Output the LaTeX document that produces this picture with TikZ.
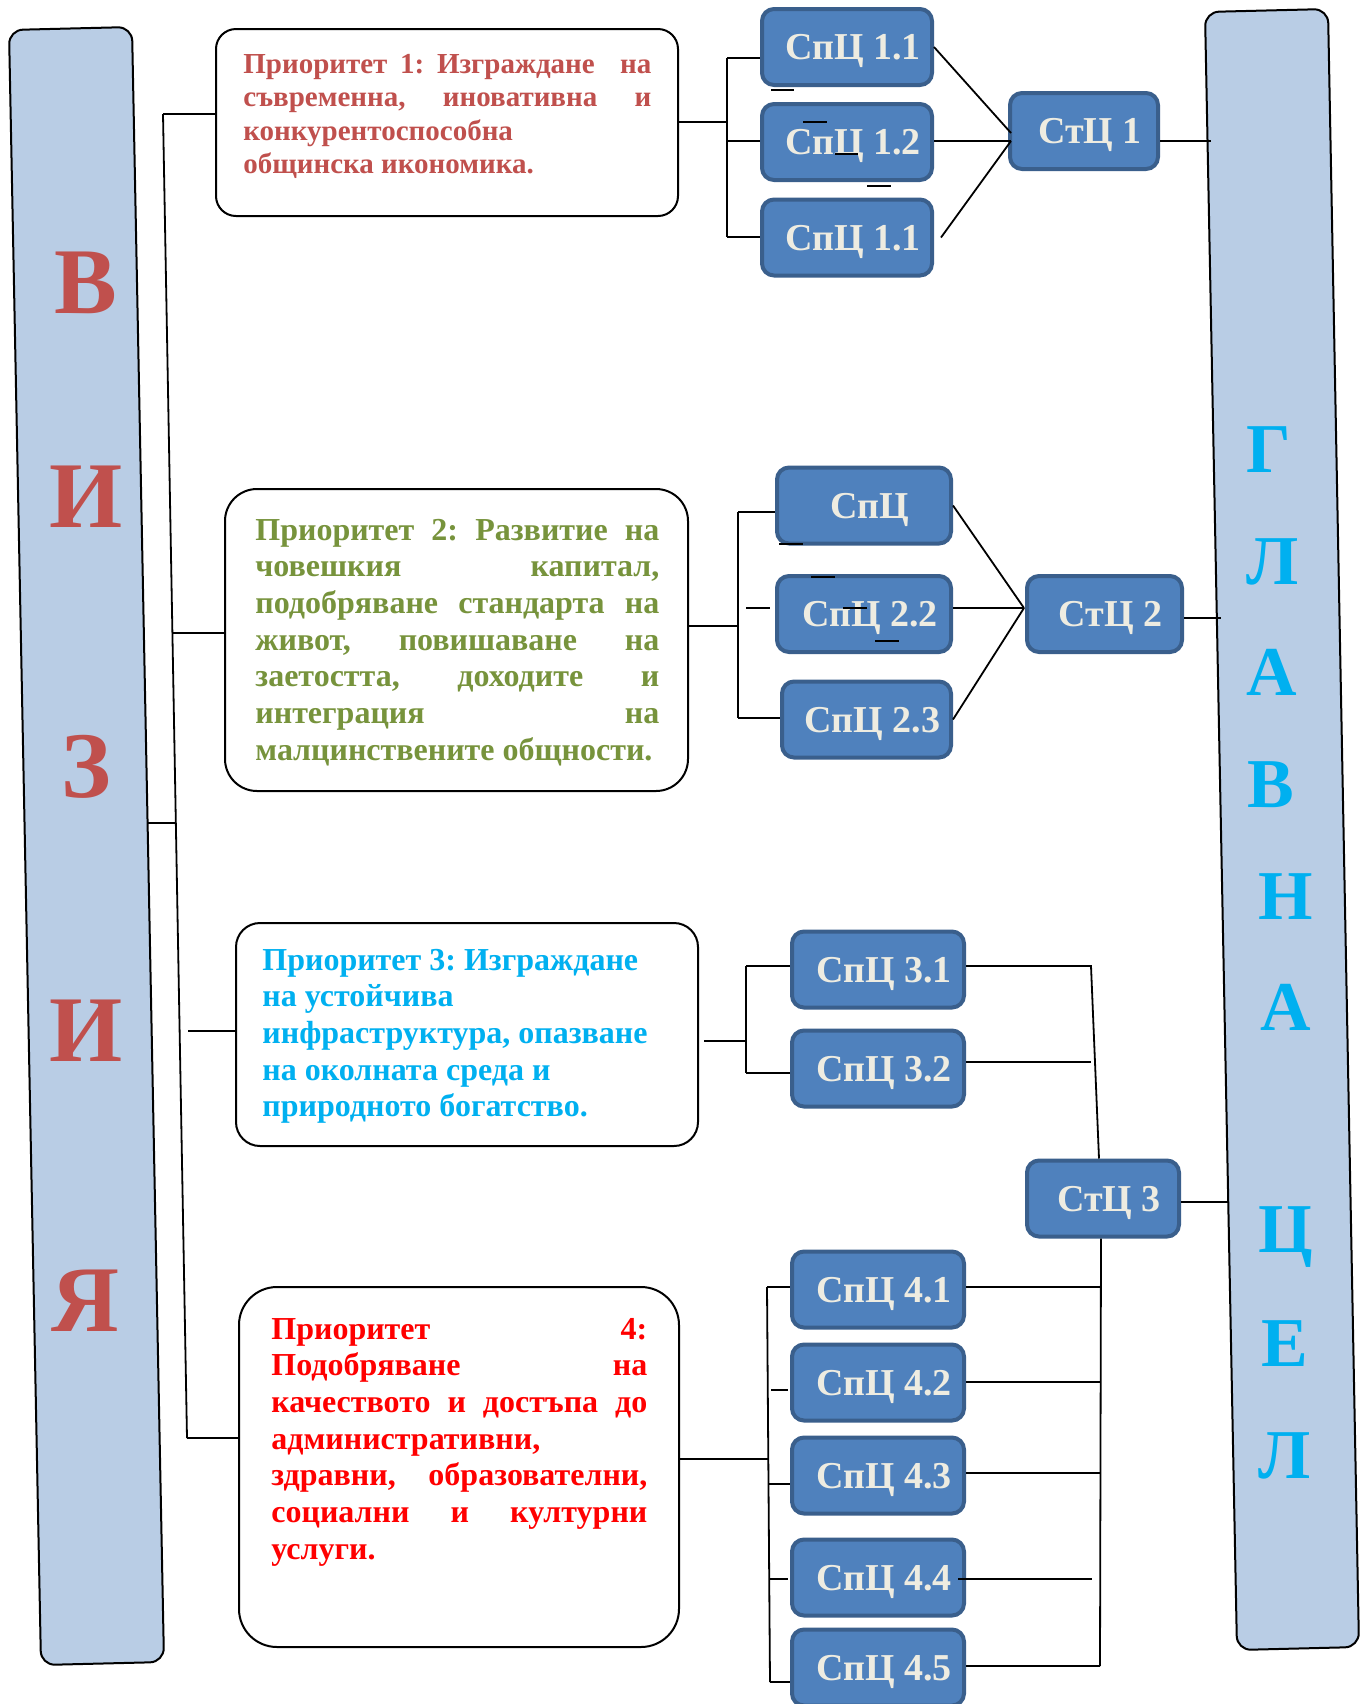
\documentclass[tikz,border=0pt]{standalone}
\usepackage{fontspec}
\setmainfont{Liberation Serif}
\definecolor{ponecol}{HTML}{C0504D}
\definecolor{ptwocol}{HTML}{77933C}
\definecolor{pthreecol}{HTML}{00B0F0}
\definecolor{pfourcol}{HTML}{FF0000}
\definecolor{boxfill}{HTML}{4F81BD}
\definecolor{boxline}{HTML}{3A5F8C}
\definecolor{boxtext}{HTML}{EEECE1}
\definecolor{barfill}{HTML}{B9CDE5}
\definecolor{vizcol}{HTML}{C0504D}
\definecolor{glcol}{HTML}{00B0F0}
\newcommand\jline[1]{\hbox to\hsize{\frenchspacing\spaceskip=.25em plus 1fill\relax #1}}
\newcommand\nline[1]{\hbox{\frenchspacing #1}}
\newcommand\dsp{\hskip .25em plus 1fill\relax}
\begin{document}
\begin{tikzpicture}[x=0.5pt,y=-0.5pt,
  sbox/.style={draw=boxline, line width=2pt, fill=boxfill, rounded corners=6pt,
    text=boxtext, font=\fontsize{19pt}{22pt}\selectfont\bfseries,
    minimum height=38pt, inner sep=0pt, text height=12.6pt, text depth=0pt},
  pbox/.style={draw=black, line width=1pt, fill=white, inner sep=0pt},
  ptext/.style={anchor=base west, inner sep=0pt},
  conn/.style={draw=black, line width=0.9pt},
  bar/.style={draw=black, line width=1pt, fill=barfill, rounded corners=7pt},
  vizl/.style={anchor=base, inner sep=0pt, text=vizcol, font=\fontsize{47pt}{50pt}\selectfont\bfseries},
  gll/.style={anchor=base west, inner sep=0pt, text=glcol, font=\fontsize{35pt}{38pt}\selectfont\bfseries}
]
\useasboundingbox (0,0) rectangle (1362,1704);
\fill[white] (0,0) rectangle (1362,1704);

% side bars
\draw[bar] (70,28.5) -- (132,27) -- (164,1662) -- (41,1665) -- (9,30) -- cycle;
\draw[bar] (1266,10.5) -- (1328,9) -- (1359,1647) -- (1237,1650) -- (1205,12) -- cycle;

% left bar letters
\node[vizl] (v1) at (86,313) {В};
\node[vizl] (v2) at (86,527) {И};
\node[vizl] (v3) at (86,797) {З};
\node[vizl] (v4) at (86,1061) {И};
\node[vizl] (v5) at (85,1331) {Я};

% right bar letters
\node[gll] (g1) at (1246,472) {Г};
\node[gll] (g2) at (1246,584) {Л};
\node[gll] (g3) at (1246,695) {А};
\node[gll] (g4) at (1247,807) {В};
\node[gll] (g5) at (1258,919) {Н};
\node[gll] (g6) at (1260,1030) {А};
\node[gll] (g7) at (1258,1252) {Ц};
\node[gll] (g8) at (1261,1366) {Е};
\node[gll] (g9) at (1258,1478) {Л};

% priority boxes
\node[pbox, minimum width=231pt, minimum height=93.5pt, rounded corners=10pt] (P1) at (447,122.5) {};
\node[pbox, minimum width=231.5pt, minimum height=151pt, rounded corners=16pt] (P2) at (456.5,640) {};
\node[pbox, minimum width=231pt, minimum height=111.5pt, rounded corners=12pt] (P3) at (467,1034.5) {};
\node[pbox, minimum width=220pt, minimum height=180pt, rounded corners=19pt] (P4) at (459,1467) {};

\node[ptext, text=ponecol, font=\fontsize{14.5pt}{16.75pt}\selectfont\bfseries] (tP1) at (243,73)
 {\vtop{\hsize=204pt\baselineskip=16.75pt
  \jline{Приоритет 1: Изграждане\dsp{} на}
  \jline{съвременна, иновативна и}
  \nline{конкурентоспособна}
  \nline{общинска икономика.}}};
\node[ptext, text=ptwocol, font=\fontsize{16pt}{18.35pt}\selectfont\bfseries] (tP2) at (255,540)
 {\vtop{\hsize=202pt\baselineskip=18.35pt
  \jline{Приоритет 2: Развитие на}
  \jline{човешкия капитал,}
  \jline{подобряване стандарта на}
  \jline{живот, повишаване на}
  \jline{заетостта, доходите и}
  \jline{интеграция на}
  \nline{малцинствените общности.}}};
\node[ptext, text=pthreecol, font=\fontsize{16pt}{18.35pt}\selectfont\bfseries] (tP3) at (262,970)
 {\vtop{\hsize=210pt\baselineskip=18.35pt
  \nline{Приоритет 3: Изграждане}
  \nline{на устойчива}
  \nline{инфраструктура, опазване}
  \nline{на околната среда и}
  \nline{природното богатство.}}};
\node[ptext, text=pfourcol, font=\fontsize{16pt}{18.35pt}\selectfont\bfseries] (tP4) at (271,1339)
 {\vtop{\hsize=188pt\baselineskip=18.35pt
  \jline{Приоритет 4:}
  \jline{Подобряване на}
  \jline{качеството и достъпа до}
  \nline{административни,}
  \jline{здравни, образователни,}
  \jline{социални и културни}
  \nline{услуги.}}};

% objective boxes
\node[sbox, minimum width=85pt] (S11) at (847,47) {\hspace*{6pt}СпЦ 1.1};
\node[sbox, minimum width=85pt] (S12) at (847,142) {\hspace*{6pt}СпЦ 1.2};
\node[sbox, minimum width=85pt] (S13) at (847,237.5) {\hspace*{6pt}СпЦ 1.1};
\node[sbox, minimum width=74pt] (T1) at (1084,131) {\hspace*{6pt}СтЦ 1};
\node[sbox, minimum width=87pt] (S21) at (864,505.5) {\hspace*{6pt}СпЦ};
\node[sbox, minimum width=87pt] (S22) at (864,614) {\hspace*{6pt}СпЦ 2.2};
\node[sbox, minimum width=84.5pt] (S23) at (866.5,719.5) {\hspace*{6pt}СпЦ 2.3};
\node[sbox, minimum width=77.5pt] (T2) at (1104.5,614) {\hspace*{6pt}СтЦ 2};
\node[sbox, minimum width=86pt] (S31) at (878,969.5) {\hspace*{6pt}СпЦ 3.1};
\node[sbox, minimum width=86pt] (S32) at (878,1068.5) {\hspace*{6pt}СпЦ 3.2};
\node[sbox, minimum width=76pt] (T3) at (1103,1198.5) {\hspace*{6pt}СтЦ 3};
\node[sbox, minimum width=86pt] (S41) at (878,1289.5) {\hspace*{6pt}СпЦ 4.1};
\node[sbox, minimum width=86pt] (S42) at (878,1382.5) {\hspace*{6pt}СпЦ 4.2};
\node[sbox, minimum width=86pt] (S43) at (878,1475.5) {\hspace*{6pt}СпЦ 4.3};
\node[sbox, minimum width=86pt] (S44) at (878,1577.5) {\hspace*{6pt}СпЦ 4.4};
\node[sbox, minimum width=86pt] (S45) at (878,1667.5) {\hspace*{6pt}СпЦ 4.5};

% left trunk
\coordinate (L1) at (163,114);
\coordinate (L2) at (172,633);
\coordinate (L3) at (188,1031);
\coordinate (L4) at (187,1438);
\coordinate (Lv) at (148,823);
\coordinate (Lw) at (176,823);
\draw[conn] (L1) -- (L4);
\draw[conn] (L1) -- (L1 -| P1.west);
\draw[conn] (L2) -- (L2 -| P2.west);
\draw[conn] (L3) -- (L3 -| P3.west);
\draw[conn] (L4) -- (L4 -| P4.west);
\draw[conn] (Lv) -- (Lw);

% group 1
\coordinate (B1) at (727,122);
\coordinate (B1t) at (727,58);
\coordinate (B1m) at (727,141);
\coordinate (B1b) at (727,237);
\coordinate (F1a) at (1011,133);
\coordinate (F1) at (1011,141);
\coordinate (R1) at (1211,141);
\draw[conn] (B1 -| P1.east) -- (B1);
\draw[conn] (B1t) -- (B1b);
\draw[conn] (B1t) -- (B1t -| S11.west);
\draw[conn] (B1m) -- (B1m -| S12.west);
\draw[conn] (B1b) -- (B1b -| S13.west);
\draw[conn] (S11.east) -- (F1a);
\draw[conn] (F1 -| S12.east) -- (F1);
\draw[conn] ([xshift=3.5pt]S13.east) -- (F1);
\draw[conn] (R1 -| T1.east) -- (R1);
\coordinate (d1a) at (771,90);  \coordinate (d1b) at (794,90);
\coordinate (d2a) at (803,122); \coordinate (d2b) at (827,122);
\coordinate (d3a) at (835,154); \coordinate (d3b) at (858,154);
\coordinate (d4a) at (867,186); \coordinate (d4b) at (891,186);
\draw[conn] (d1a) -- (d1b);
\draw[conn] (d2a) -- (d2b);
\draw[conn] (d3a) -- (d3b);
\draw[conn] (d4a) -- (d4b);

% group 2
\coordinate (B2) at (738,626);
\coordinate (B2t) at (738,512);
\coordinate (B2b) at (738,718);
\coordinate (F2) at (1024,608);
\coordinate (R2) at (1221,618);
\draw[conn] (B2 -| P2.east) -- (B2);
\draw[conn] (B2t) -- (B2b);
\draw[conn] (B2t) -- (B2t -| S21.west);
\draw[conn] (B2b) -- (B2b -| S23.west);
\draw[conn] (S21.east) -- (F2);
\draw[conn] (F2 -| S22.east) -- (F2);
\draw[conn] (S23.east) -- (F2);
\draw[conn] (R2 -| T2.east) -- (R2);
\coordinate (e0a) at (746,608); \coordinate (e0b) at (770,608);
\coordinate (e1a) at (779,544); \coordinate (e1b) at (803,544);
\coordinate (e2a) at (811,577); \coordinate (e2b) at (835,577);
\coordinate (e3a) at (843,608); \coordinate (e3b) at (867,608);
\coordinate (e4a) at (875,641); \coordinate (e4b) at (899,641);
\draw[conn] (e0a) -- (e0b);
\draw[conn] (e1a) -- (e1b);
\draw[conn] (e2a) -- (e2b);
\draw[conn] (e3a) -- (e3b);
\draw[conn] (e4a) -- (e4b);

% group 3
\coordinate (B3) at (746,1041);
\coordinate (B3t) at (746,966);
\coordinate (B3b) at (746,1073);
\coordinate (J3a) at (1091,966);
\coordinate (J3b) at (1091,1062);
\coordinate (R3) at (1229,1202);
\draw[conn] ([xshift=2.5pt]B3 -| P3.east) -- (B3);
\draw[conn] (B3t) -- (B3b);
\draw[conn] (B3t) -- (B3t -| S31.west);
\draw[conn] (B3b) -- (B3b -| S32.west);
\draw[conn] (J3a -| S31.east) -- (J3a) -- ([xshift=-2pt]T3.north);
\draw[conn] (J3b -| S32.east) -- (J3b);
\draw[conn] (R3 -| T3.east) -- (R3);

% group 4
\coordinate (J4b) at (1100,1666);
\coordinate (J41) at (1100,1287);
\coordinate (J42) at (1100,1382);
\coordinate (J43) at (1100,1473);
\coordinate (J44) at (1092,1579);
\draw[conn] ([xshift=-1pt]T3.south) -- (J4b);
\draw[conn] (J41 -| S41.east) -- (J41);
\draw[conn] (J42 -| S42.east) -- (J42);
\draw[conn] (J43 -| S43.east) -- (J43);
\draw[conn] ([xshift=-4pt]J44 -| S44.east) -- (J44);
\draw[conn] (J4b -| S45.east) -- (J4b);
\coordinate (B4) at (768,1459);
\coordinate (B4a) at (767,1287);
\coordinate (B4c) at (768,1484);
\coordinate (B4d) at (769,1579);
\coordinate (B4e) at (770,1682);
\coordinate (f1a) at (771,1390); \coordinate (f1b) at (788,1390);
\draw[conn] (B4 -| P4.east) -- (B4);
\draw[conn] (B4a) -- (B4e);
\draw[conn] (B4a) -- (B4a -| S41.west);
\draw[conn] (B4c) -- (B4c -| S43.west);
\draw[conn] (B4d) -- ([xshift=-1pt]B4d -| S44.west);
\draw[conn] (B4e) -- (B4e -| S45.west);
\draw[conn] (f1a) -- (f1b);
\end{tikzpicture}
\end{document}
